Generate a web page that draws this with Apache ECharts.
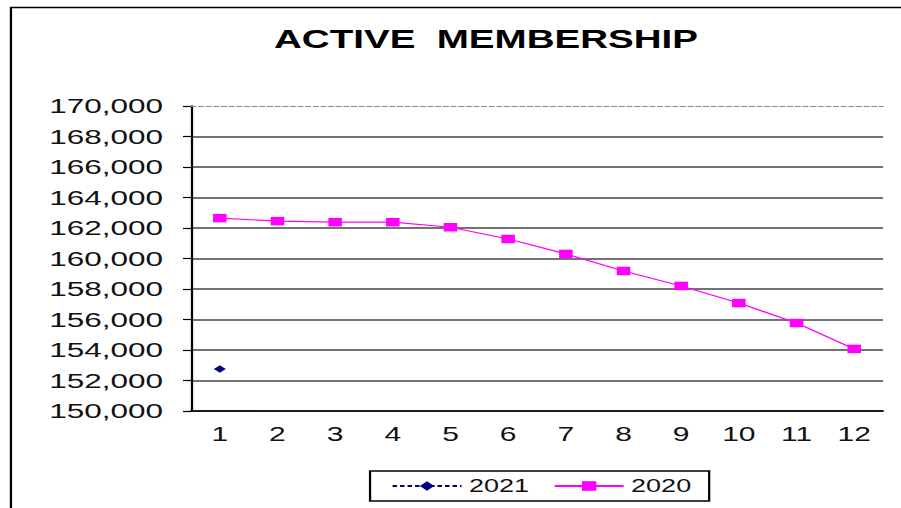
<!DOCTYPE html>
<html>
<head>
<meta charset="utf-8">
<script src="https://cdn.jsdelivr.net/npm/echarts@6/dist/echarts.min.js"></script>
<style>
  html, body { margin: 0; padding: 0; background: #fff; overflow: hidden; }
  /* the reference is stretched horizontally, so draw narrow and widen */
  #chart { width: 601px; height: 508px; transform: scaleX(1.5); transform-origin: 0 0; }
</style>
</head>
<body>
<div id="chart"></div>
<script>
const months = ['1', '2', '3', '4', '5', '6', '7', '8', '9', '10', '11', '12'];
const members2021 = [152750, null, null, null, null, null, null, null, null, null, null, null];
const members2020 = [162650, 162450, 162380, 162380, 162050, 161280, 160300, 159180, 158200, 157080, 155770, 154070];
const yMin = 150000;
const yMax = 170000;
const yStep = 2000;

const font = 'Liberation Sans, Arial, sans-serif';
const chart = echarts.init(document.getElementById('chart'), null, { renderer: 'svg' });

chart.setOption({
  animation: false,
  graphic: [
    {
      type: 'rect',
      shape: { x: 7.3, y: 7.5, width: 700, height: 600 },
      style: { fill: 'none', stroke: '#000', lineWidth: 1.5 },
      silent: true
    },
    {
      type: 'text',
      x: 324,
      y: 39,
      style: {
        text: 'ACTIVE  MEMBERSHIP',
        fontFamily: font,
        fontSize: 25.7,
        fontWeight: 'bold',
        fill: '#000',
        align: 'center',
        verticalAlign: 'middle'
      }
    }
  ],
  legend: {
    left: 246.7,
    top: 471,
    padding: [6, 12, 6, 14],
    borderColor: '#000',
    borderWidth: 1.5,
    itemWidth: 46,
    itemHeight: 12,
    itemGap: 16,
    textStyle: { fontFamily: font, fontSize: 18, color: '#111' },
    data: ['2021', '2020']
  },
  grid: { left: 127.3, right: 12.3, top: 106, bottom: 97 },
  xAxis: [
    {
      type: 'category',
      data: months,
      axisLine: { lineStyle: { color: '#000', width: 1.5 } },
      axisTick: { length: 6, lineStyle: { color: '#000', width: 1.2 } },
      axisLabel: { fontFamily: font, fontSize: 20, color: '#111', margin: 13 }
    },
    {
      type: 'category',
      data: months,
      position: 'top',
      axisLine: { lineStyle: { color: '#8c8c8c', width: 1, type: [3.3, 1.8] } },
      axisTick: { show: false },
      axisLabel: { show: false }
    }
  ],
  yAxis: {
    type: 'value',
    min: yMin,
    max: yMax,
    interval: yStep,
    axisLine: { show: true, lineStyle: { color: '#000', width: 1.5 } },
    axisTick: { show: true, length: 5.3, lineStyle: { color: '#000', width: 1.2 } },
    axisLabel: {
      fontFamily: font,
      fontSize: 21,
      color: '#111',
      margin: 18.6,
      formatter: (v) => v.toLocaleString('en-US')
    },
    splitLine: { show: true, showMaxLine: false, lineStyle: { color: '#444', width: 1.5 } }
  },
  series: [
    {
      name: '2021',
      type: 'line',
      data: members2021,
      symbol: 'diamond',
      symbolSize: [8, 7.5],
      itemStyle: { color: '#000080' },
      lineStyle: { color: '#000080', width: 1, type: [3, 2] }
    },
    {
      name: '2020',
      type: 'line',
      data: members2020,
      symbol: 'rect',
      symbolSize: [9, 8.5],
      itemStyle: { color: '#ff00ff' },
      lineStyle: { color: '#ff00ff', width: 1.2 }
    }
  ]
});
</script>
</body>
</html>
